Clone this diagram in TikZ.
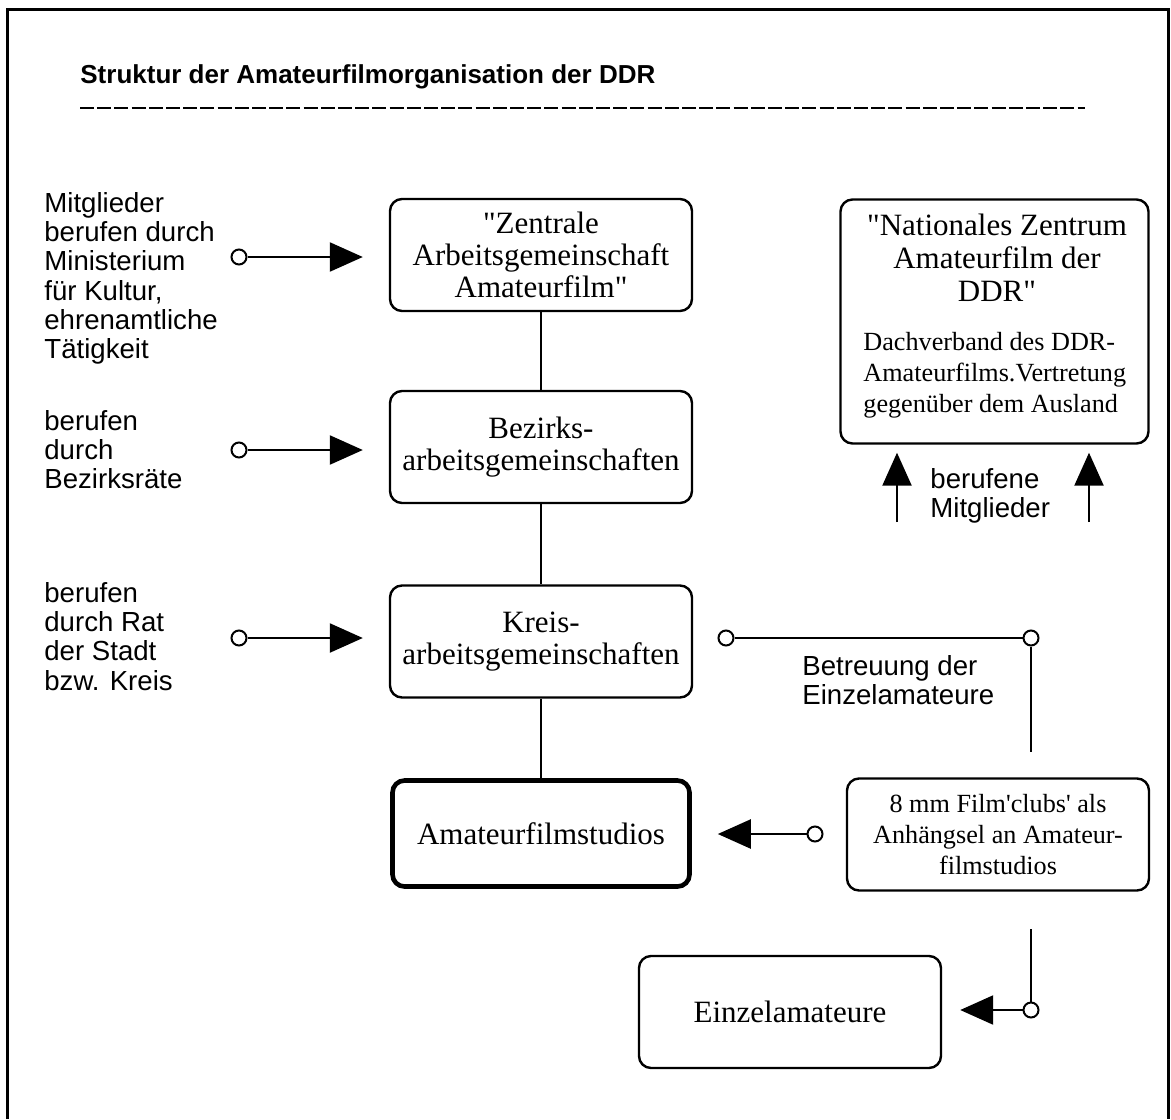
\documentclass[tikz,border=0pt]{standalone}
\usepackage{fontspec}
\usepackage{tikz}
\usetikzlibrary{arrows.meta}
\newfontfamily\timesfont{Liberation Serif}
\newfontfamily\arialfont{Liberation Sans}

\tikzset{
  orgbox/.style={draw, line width=1.2pt, rounded corners=6pt, minimum width=151pt,
    minimum height=56pt, align=center, inner sep=2pt,
    font=\timesfont\fontsize{15.5}{16}\selectfont},
  smallbox/.style={orgbox, font=\timesfont\fontsize{13.1}{15.7}\selectfont},
  note/.style={inner sep=0pt, align=left, font=\arialfont\fontsize{13.8}{14.6}\selectfont},
  dot/.style={draw, circle, fill=white, line width=1pt, inner sep=0pt, minimum size=7.5pt},
  link/.style={line width=1.15pt},
  feed/.style={link, -{Triangle[length=16.5pt, width=14.5pt]}}
}

\begin{document}
\begin{tikzpicture}[x=0.5pt,y=-0.5pt]
\useasboundingbox (0,0) rectangle (1171,1119);

% frame and title
\draw[line width=1.5pt] (7,1119) -- (7,9.5) -- (1168.5,9.5) -- (1168.5,1119);
\node[anchor=base west, inner sep=0pt, font=\arialfont\bfseries\fontsize{13}{15}\selectfont]
  (title) at (80,83) {Struktur der Amateurfilmorganisation der DDR};
\draw[line width=1.3pt, dash pattern=on 7pt off 1.6pt] (80,108) -- (1085,108);

% levels
\node[orgbox] (Z) at (541,255) {"Zentrale\\Arbeitsgemeinschaft\\Amateurfilm"};
\node[orgbox] (B) at (541,447) {Bezirks-\\arbeitsgemeinschaften};
\node[orgbox] (K) at (541,641.5) {Kreis-\\arbeitsgemeinschaften};
\node[orgbox, line width=2.3pt, minimum width=148.5pt, minimum height=53pt] (S) at (541,833.5) {Amateurfilmstudios};
\node[smallbox] (C) at (998,834.5) {8 mm Film'clubs' als\\Anhängsel an Amateur-\\filmstudios};
\node[orgbox] (E) at (790,1012) {Einzelamateure};

\node[orgbox, minimum width=154pt, minimum height=122pt] (N) at (994.5,321.5) {};
\node[anchor=north, inner sep=0pt, align=center, font=\timesfont\fontsize{15.5}{16.3}\selectfont]
  (Nhead) at (997,214) {"Nationales Zentrum\\Amateurfilm der\\DDR"};
\node[anchor=north west, inner sep=0pt, align=left, font=\timesfont\fontsize{13.1}{15.5}\selectfont]
  (Ntext) at (863,332) {Dachverband des DDR-\\Amateurfilms.Vertretung\\gegenüber dem Ausland};

\draw[link] (Z) -- (B);
\draw[link] (B) -- (K);
\draw[link] (K) -- (S);

% left side
\node[note, anchor=north west] (n1) at (44,192) {Mitglieder\\berufen durch\\Ministerium\\für Kultur,\\ehrenamtliche\\Tätigkeit};
\node[note, anchor=north west] (n2) at (44,410) {berufen\\durch\\Bezirksräte};
\node[note, anchor=north west] (n3) at (44,582) {berufen\\durch Rat\\der Stadt\\bzw. Kreis};

\node[dot] (m1) at (239,257) {};
\node[dot] (m2) at (239,450) {};
\node[dot] (m3) at (239,638) {};
\draw[feed, shorten >=13pt] (m1) -- (m1 -| Z.west);
\draw[feed, shorten >=13pt] (m2) -- (m2 -| B.west);
\draw[feed, shorten >=13pt] (m3) -- (m3 -| K.west);

% right side
\coordinate (u1) at (897,522);
\coordinate (u2) at (1089,522);
\draw[feed, shorten >=4pt] (u1) -- (u1 |- N.south);
\draw[feed, shorten >=4pt] (u2) -- (u2 |- N.south);
\node[note, anchor=north west] (n4) at (930,468) {berufene\\Mitglieder};

\node[dot] (k1) at (726,638) {};
\node[dot] (k2) at (1031,638) {};
\coordinate (k3) at (1031,752);
\draw[link] (k1) -- (k2);
\draw[link] (k2) -- (k3);
\node[note, anchor=north west] (n5) at (802,655) {Betreuung der\\Einzelamateure};

\node[dot] (s1) at (815,834) {};
\draw[feed, shorten >=13pt] (s1) -- (s1 -| S.east);

\coordinate (c1) at (1031,929);
\node[dot] (e1) at (1031,1010) {};
\draw[link] (c1) -- (e1);
\draw[feed, shorten >=9pt] (e1) -- (e1 -| E.east);

\end{tikzpicture}
\end{document}
